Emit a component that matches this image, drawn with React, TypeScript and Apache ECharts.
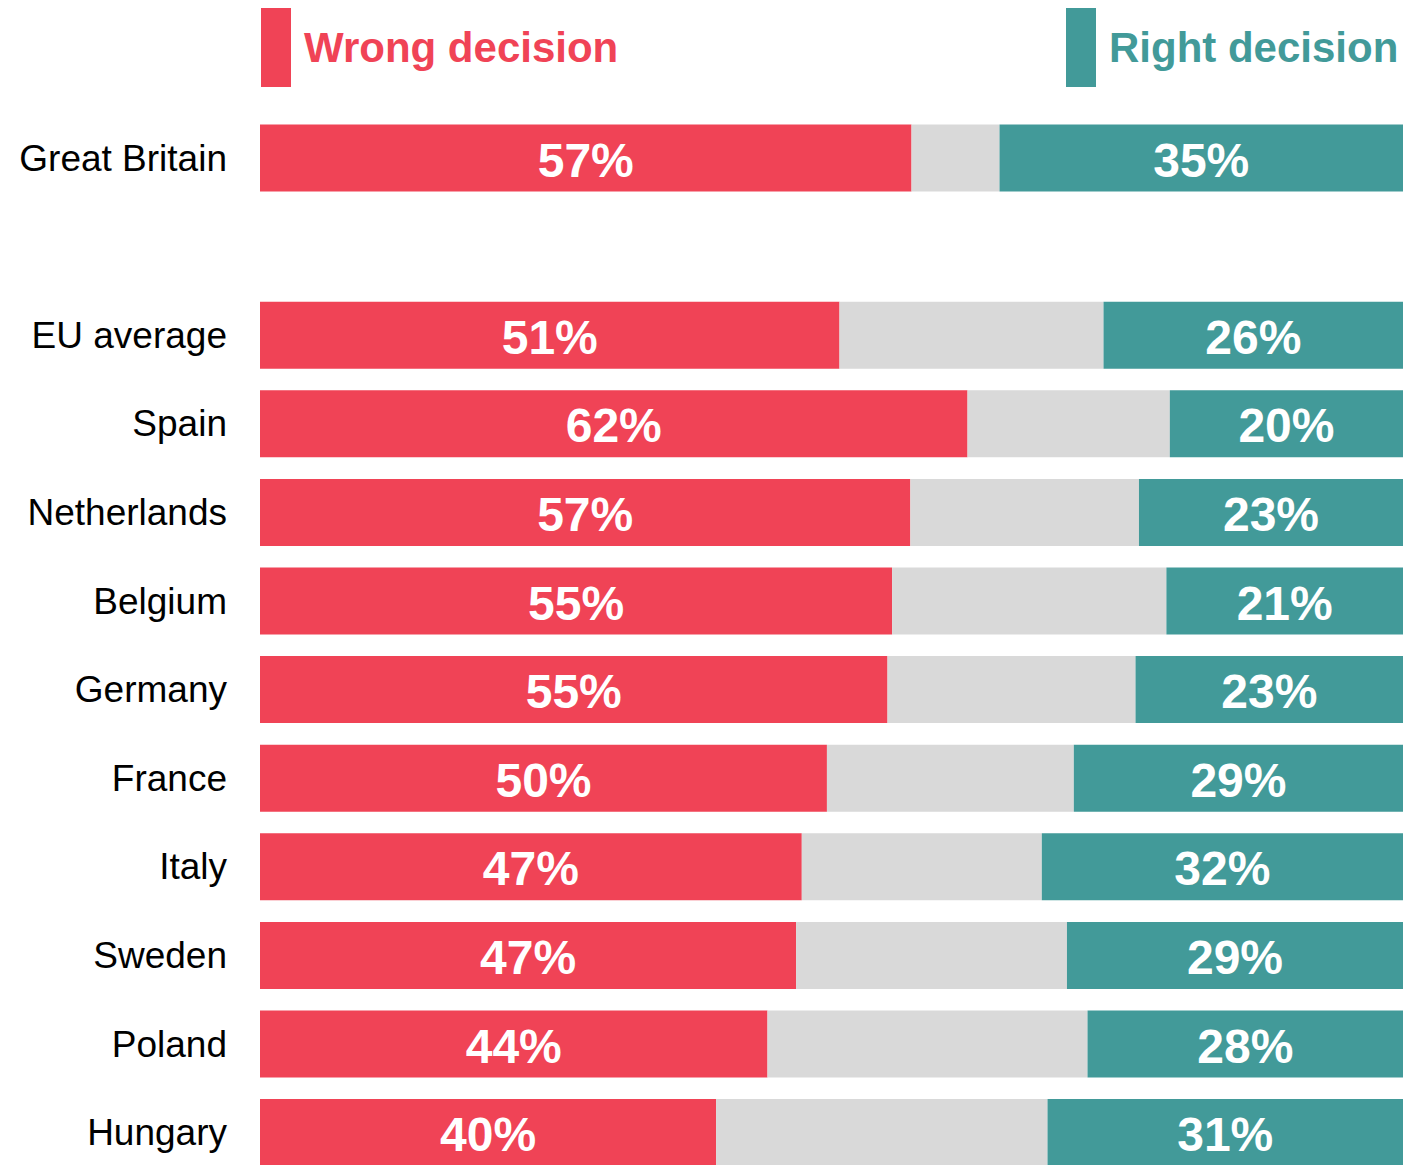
import React, { useEffect, useRef } from "react";
import * as echarts from "echarts";

const categories = [
  "Great Britain",
  "",
  "EU average",
  "Spain",
  "Netherlands",
  "Belgium",
  "Germany",
  "France",
  "Italy",
  "Sweden",
  "Poland",
  "Hungary",
];
// shares (%); labels show them rounded
const wrongValues: (number | null)[] = [57.0, null, 50.7, 61.9, 56.9, 55.3, 54.9, 49.6, 47.4, 46.9, 44.4, 39.9];
const rightValues: (number | null)[] = [35.3, null, 26.2, 20.4, 23.1, 20.7, 23.4, 28.8, 31.6, 29.4, 27.6, 31.1];
const otherValues: (number | null)[] = wrongValues.map((w, i) =>
  w === null || rightValues[i] === null ? null : +(100 - (w as number) - (rightValues[i] as number)).toFixed(1)
);

const legendLabels = ["Wrong decision", "Right decision"];

const RED = "#F04356";
const TEAL = "#429A99";
const GREY = "#D9D9D9";
const FONT = "'Liberation Sans', Arial, sans-serif";

export default function App() {
  const ref = useRef<HTMLDivElement>(null);
  useEffect(() => {
    document.body.style.margin = "0";
    if (!ref.current) return;
    const chart = echarts.init(ref.current, null, { renderer: "svg" });
    const label = {
      show: true,
      position: "inside",
      formatter: (p: any) => (p.value == null ? "" : `${Math.round(p.value)}%`),
      color: "#ffffff",
      fontSize: 48,
      fontWeight: "bold",
      fontFamily: FONT,
      offset: [0, 2],
    };
    chart.setOption({
      animation: false,
      backgroundColor: "#ffffff",
      grid: { left: 260, width: 1143, top: 113.7, height: 1063.2, containLabel: false },
      xAxis: {
        type: "value",
        min: 0,
        max: 100,
        show: false,
      },
      yAxis: {
        type: "category",
        inverse: true,
        data: categories,
        axisLine: { show: false },
        axisTick: { show: false },
        splitLine: { show: false },
        axisLabel: {
          color: "#000000",
          fontSize: 37,
          fontFamily: FONT,
          margin: 33,
        },
      },
      series: [
        {
          name: legendLabels[0],
          type: "bar",
          stack: "total",
          data: wrongValues,
          barWidth: 67,
          itemStyle: { color: RED },
          label,
        },
        {
          name: "Other",
          type: "bar",
          stack: "total",
          data: otherValues,
          barWidth: 67,
          itemStyle: { color: GREY },
          label: { show: false },
        },
        {
          name: legendLabels[1],
          type: "bar",
          stack: "total",
          data: rightValues,
          barWidth: 67,
          itemStyle: { color: TEAL },
          label,
        },
      ],
      graphic: [
        { type: "rect", shape: { x: 261, y: 8, width: 30, height: 79 }, style: { fill: RED } },
        {
          type: "text",
          x: 304,
          y: 47,
          style: {
            text: legendLabels[0],
            fill: RED,
            font: `bold 42px ${FONT}`,
            verticalAlign: "middle",
            align: "left",
          },
        },
        { type: "rect", shape: { x: 1066, y: 8, width: 30, height: 79 }, style: { fill: TEAL } },
        {
          type: "text",
          x: 1109,
          y: 47,
          style: {
            text: legendLabels[1],
            fill: TEAL,
            font: `bold 42px ${FONT}`,
            verticalAlign: "middle",
            align: "left",
          },
        },
      ],
    });
    return () => chart.dispose();
  }, []);
  return (
    <div
      ref={ref}
      style={{ position: "fixed", left: 0, top: 0, width: 1428, height: 1200 }}
    />
  );
}
